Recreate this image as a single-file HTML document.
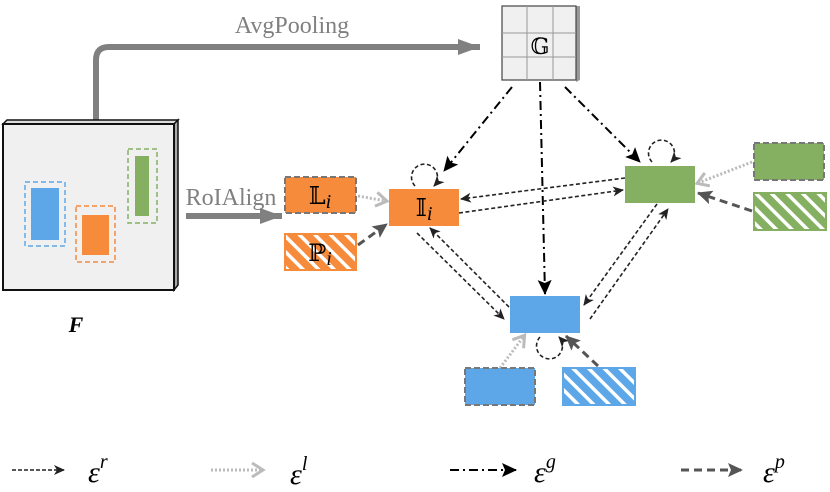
<!DOCTYPE html>
<html><head><meta charset="utf-8"><style>
html,body{margin:0;padding:0;background:#fff;width:830px;height:492px;overflow:hidden}
svg{display:block}
text{font-family:"Liberation Serif","DejaVu Serif",serif}
</style></head><body>
<svg width="830" height="492" viewBox="0 0 830 492" xmlns="http://www.w3.org/2000/svg">
<defs>
<marker id="mk" markerWidth="12" markerHeight="12" refX="10" refY="6" orient="auto" markerUnits="userSpaceOnUse"><path d="M0,1 L11,6 L0,11 L3,6 Z" fill="#222"/></marker>
<marker id="mg" markerWidth="16" markerHeight="16" refX="14" refY="8" orient="auto" markerUnits="userSpaceOnUse"><path d="M0,1 L15,8 L0,15 L3,8 Z" fill="#000"/></marker>
<marker id="ml" markerWidth="16" markerHeight="16" refX="12" refY="8" orient="auto" markerUnits="userSpaceOnUse"><path d="M2,1 L13,8 L2,15" fill="none" stroke="#bbb" stroke-width="3"/></marker>
<marker id="mp" markerWidth="16" markerHeight="16" refX="14" refY="8" orient="auto" markerUnits="userSpaceOnUse"><path d="M0,1 L15,8 L0,15 L3,8 Z" fill="#555"/></marker>
<marker id="mbig" markerWidth="24" markerHeight="20" refX="22" refY="10" orient="auto" markerUnits="userSpaceOnUse"><path d="M0,2 L22,10 L0,18 Z" fill="#808080"/></marker>
<pattern id="ho" width="11" height="11" patternUnits="userSpaceOnUse" patternTransform="rotate(-45)"><rect width="11" height="11" fill="#f68b3c"/><rect x="0" width="3.5" height="11" fill="#fff"/></pattern>
<pattern id="hg" width="11" height="11" patternUnits="userSpaceOnUse" patternTransform="rotate(-45)"><rect width="11" height="11" fill="#85b062"/><rect x="0" width="3.5" height="11" fill="#fff"/></pattern>
<pattern id="hb" width="11" height="11" patternUnits="userSpaceOnUse" patternTransform="rotate(-45)"><rect width="11" height="11" fill="#5da7e8"/><rect x="0" width="3.5" height="11" fill="#fff"/></pattern>
</defs>

<!-- AvgPooling path -->
<path d="M96,121 L96,60 Q96,47 109,47 L480,47" fill="none" stroke="#808080" stroke-width="6" marker-end="url(#mbig)"/>
<text x="292" y="33" font-size="24" fill="#808080" text-anchor="middle">AvgPooling</text>

<!-- F box -->
<path d="M3,124 L7,120 L178,120 L174,124 Z" fill="#ddd" stroke="#111" stroke-width="1.5"/>
<path d="M174,124 L178,120 L178,285 L174,290 Z" fill="#aaa" stroke="#111" stroke-width="1.5"/>
<rect x="3" y="124" width="171" height="166" fill="#f0f0f0" stroke="#111" stroke-width="2"/>
<rect x="25" y="182" width="40" height="64" fill="none" stroke="#5da7e8" stroke-width="1.5" stroke-dasharray="5,3"/>
<rect x="31" y="188" width="28" height="52" fill="#5da7e8"/>
<rect x="76" y="206" width="39" height="56" fill="none" stroke="#f68b3c" stroke-width="1.5" stroke-dasharray="5,3"/>
<rect x="82" y="215" width="27" height="40" fill="#f68b3c"/>
<rect x="128" y="149" width="29" height="74" fill="none" stroke="#85b062" stroke-width="1.5" stroke-dasharray="5,3"/>
<rect x="135" y="156" width="14" height="60" fill="#85b062"/>
<text x="76" y="332" font-size="22" font-weight="bold" font-style="italic" text-anchor="middle">F</text>

<!-- RoIAlign -->
<text x="231" y="205" font-size="24" fill="#808080" text-anchor="middle">RoIAlign</text>
<line x1="186" y1="216" x2="282" y2="216" stroke="#808080" stroke-width="6" marker-end="url(#mbig)"/>

<!-- G grid -->
<path d="M504,6 L580,6 L580,80 L576,82 L576,9 Z" fill="#999"/>
<rect x="502" y="6" width="74" height="74" fill="#f0f0f0" stroke="#444" stroke-width="1.2"/>
<line x1="527" y1="6" x2="527" y2="80" stroke="#999"/><line x1="553" y1="6" x2="553" y2="80" stroke="#999"/>
<line x1="502" y1="33" x2="576" y2="33" stroke="#999"/><line x1="502" y1="57" x2="576" y2="57" stroke="#999"/>
<text x="540" y="54" font-size="22" text-anchor="middle">𝔾</text>

<!-- G edges -->
<g stroke="#000" stroke-width="2" stroke-dasharray="9,4,2,4" fill="none">
<line x1="512" y1="87" x2="444" y2="171" marker-end="url(#mg)"/>
<line x1="565" y1="87" x2="640" y2="162" marker-end="url(#mg)"/>
<line x1="540" y1="82" x2="545" y2="294" marker-end="url(#mg)"/>
</g>

<!-- relation edges -->
<g stroke="#222" stroke-width="1.6" stroke-dasharray="4,2.5" fill="none">
<line x1="625" y1="178" x2="461" y2="199" marker-end="url(#mk)"/>
<line x1="459" y1="213" x2="623" y2="190" marker-end="url(#mk)"/>
<line x1="417" y1="233" x2="504" y2="319" marker-end="url(#mk)"/>
<line x1="509" y1="307" x2="430" y2="228" marker-end="url(#mk)"/>
<line x1="657" y1="204" x2="584" y2="305" marker-end="url(#mk)"/>
<line x1="590" y1="319" x2="668" y2="209" marker-end="url(#mk)"/>
<path d="M415,186 A13,13 0 1 1 434,186" marker-end="url(#mk)"/>
<path d="M652,162 A13,13 0 1 1 671,162" marker-end="url(#mk)"/>
<path d="M540,337 A13,13 0 1 0 559,337" marker-end="url(#mk)"/>
</g>

<!-- light / p edges -->
<g fill="none">
<line x1="358" y1="196" x2="386" y2="201" stroke="#bbb" stroke-width="3" stroke-dasharray="2,2" marker-end="url(#ml)"/>
<line x1="752" y1="162" x2="698" y2="183" stroke="#bbb" stroke-width="3" stroke-dasharray="2,2" marker-end="url(#ml)"/>
<line x1="500" y1="368" x2="524" y2="336" stroke="#bbb" stroke-width="3" stroke-dasharray="2,2" marker-end="url(#ml)"/>
<line x1="358" y1="245" x2="387" y2="224" stroke="#555" stroke-width="3" stroke-dasharray="8,5" marker-end="url(#mp)"/>
<line x1="752" y1="211" x2="698" y2="193" stroke="#555" stroke-width="3" stroke-dasharray="8,5" marker-end="url(#mp)"/>
<line x1="598" y1="366" x2="566" y2="336" stroke="#555" stroke-width="3" stroke-dasharray="8,5" marker-end="url(#mp)"/>
</g>

<!-- nodes -->
<rect x="285" y="177" width="71" height="36" fill="#f68b3c" stroke="#777" stroke-width="2" stroke-dasharray="6,3"/>
<text x="320" y="204" font-size="24" text-anchor="middle">𝕃<tspan font-style="italic" font-size="20" dy="4">i</tspan></text>
<rect x="285" y="234" width="71" height="36" fill="url(#ho)" stroke="#f68b3c" stroke-width="2"/>
<text x="320" y="261" font-size="24" text-anchor="middle">ℙ<tspan font-style="italic" font-size="20" dy="4">i</tspan></text>
<rect x="389" y="189" width="70" height="37" fill="#f68b3c"/>
<text x="424" y="216" font-size="24" text-anchor="middle">𝕀<tspan font-style="italic" font-size="20" dy="4">i</tspan></text>
<rect x="625" y="166" width="70" height="37" fill="#85b062"/>
<rect x="510" y="296" width="70" height="37" fill="#5da7e8"/>
<rect x="754" y="143" width="70" height="37" fill="#85b062" stroke="#777" stroke-width="2" stroke-dasharray="6,3"/>
<rect x="754" y="193" width="72" height="37" fill="url(#hg)" stroke="#85b062" stroke-width="2"/>
<rect x="465" y="368" width="70" height="37" fill="#5da7e8" stroke="#777" stroke-width="2" stroke-dasharray="6,3"/>
<rect x="563" y="368" width="72" height="37" fill="url(#hb)" stroke="#5da7e8" stroke-width="2"/>

<!-- legend -->
<line x1="12" y1="470" x2="64" y2="470" stroke="#222" stroke-width="1.6" stroke-dasharray="4,2" marker-end="url(#mk)"/>
<text x="88" y="482" font-size="30" font-style="italic">ε<tspan font-size="20" dy="-14">r</tspan></text>
<line x1="211" y1="470" x2="262" y2="470" stroke="#bbb" stroke-width="3" stroke-dasharray="2,2" marker-end="url(#ml)"/>
<text x="290" y="484" font-size="30" font-style="italic">ε<tspan font-size="20" dy="-14">l</tspan></text>
<line x1="450" y1="470" x2="516" y2="470" stroke="#000" stroke-width="2" stroke-dasharray="9,4,2,4" marker-end="url(#mg)"/>
<text x="534" y="482" font-size="30" font-style="italic">ε<tspan font-size="20" dy="-14">g</tspan></text>
<line x1="681" y1="470" x2="742" y2="470" stroke="#555" stroke-width="3" stroke-dasharray="8,5" marker-end="url(#mp)"/>
<text x="763" y="482" font-size="30" font-style="italic">ε<tspan font-size="20" dy="-14">p</tspan></text>
</svg>
</body></html>
